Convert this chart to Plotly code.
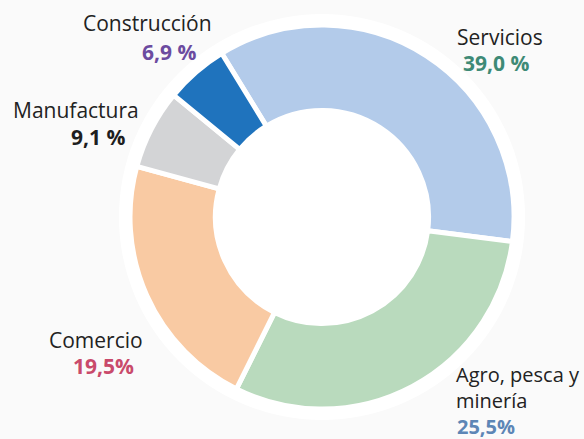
import plotly.graph_objects as go

# Data (clockwise from the Servicios slice)
categories = ["Servicios", "Agro, pesca y minería", "Comercio", "Manufactura", "Construcción"]
slice_share = [35.8, 30.3, 21.9, 6.7, 5.3]                 # slice sizes as drawn
label_pct = ["39,0 %", "25,5%", "19,5%", "9,1 %", "6,9 %"]  # printed labels
label_names = ["Servicios", "Agro, pesca y<br>minería", "Comercio", "Manufactura", "Construcción"]
colors = ["#b3cbea", "#b9dabd", "#f9caa3", "#d3d4d6", "#1f73bd"]
pct_colors = ["#3e8a76", "#5d86b6", "#c94a6b", "#1e1e1e", "#6c4ba0"]

W, H = 584, 439
cx, cy = 322, 217          # centre in pixels (from top)
r_ring, r_pie = 203, 192

def dom(r):
    return dict(x=[(cx - r) / W, (cx + r) / W],
                y=[(H - cy - r) / H, (H - cy + r) / H])

fig = go.Figure()
fig.add_trace(go.Pie(values=[1], marker=dict(colors=["#ffffff"], line=dict(width=0)),
                     textinfo="none", hoverinfo="skip", showlegend=False,
                     domain=dom(r_ring), sort=False))
fig.add_trace(go.Pie(labels=categories, values=slice_share, hole=0.555, sort=False,
                     direction="clockwise", rotation=-31.5,
                     marker=dict(colors=colors, line=dict(color="#ffffff", width=5)),
                     textinfo="none", showlegend=False, domain=dom(r_pie)))

font = "Open Sans, Noto Sans, sans-serif"
# label positions in pixels
name_x = [(499.5, "center"), (455, "left"), (96, "center"), (75.5, "center"), (147.5, "center")]
name_y = [37, 387.5, 340, 110, 23]
name_fs = [21, 20, 21, 21, 21]
pct_x = [(496, "center"), (456, "left"), (103, "center"), (97.5, "center"), (168.5, "center")]
pct_y = [63, 426, 366, 137, 52]
pct_fs = [21, 20, 21, 21, 21]

for i in range(len(categories)):
    nx, na = name_x[i]
    fig.add_annotation(x=nx / W, y=1 - name_y[i] / H, xref="paper", yref="paper",
                       text=label_names[i], showarrow=False, xanchor=na, yanchor="middle",
                       align="left", borderpad=0,
                       font=dict(family=font, size=name_fs[i], color="#222222"))
    px, pa = pct_x[i]
    fig.add_annotation(x=px / W, y=1 - pct_y[i] / H, xref="paper", yref="paper",
                       text="<b>" + label_pct[i] + "</b>", showarrow=False, xanchor=pa,
                       yanchor="middle", borderpad=0,
                       font=dict(family=font, size=pct_fs[i], color=pct_colors[i]))

fig.update_layout(width=W, height=H, margin=dict(l=0, r=0, t=0, b=0),
                  paper_bgcolor="#fafafa", plot_bgcolor="#fafafa")
fig.write_html("out.html", config={"displayModeBar": False},
               post_script="document.body.style.margin='0';")
